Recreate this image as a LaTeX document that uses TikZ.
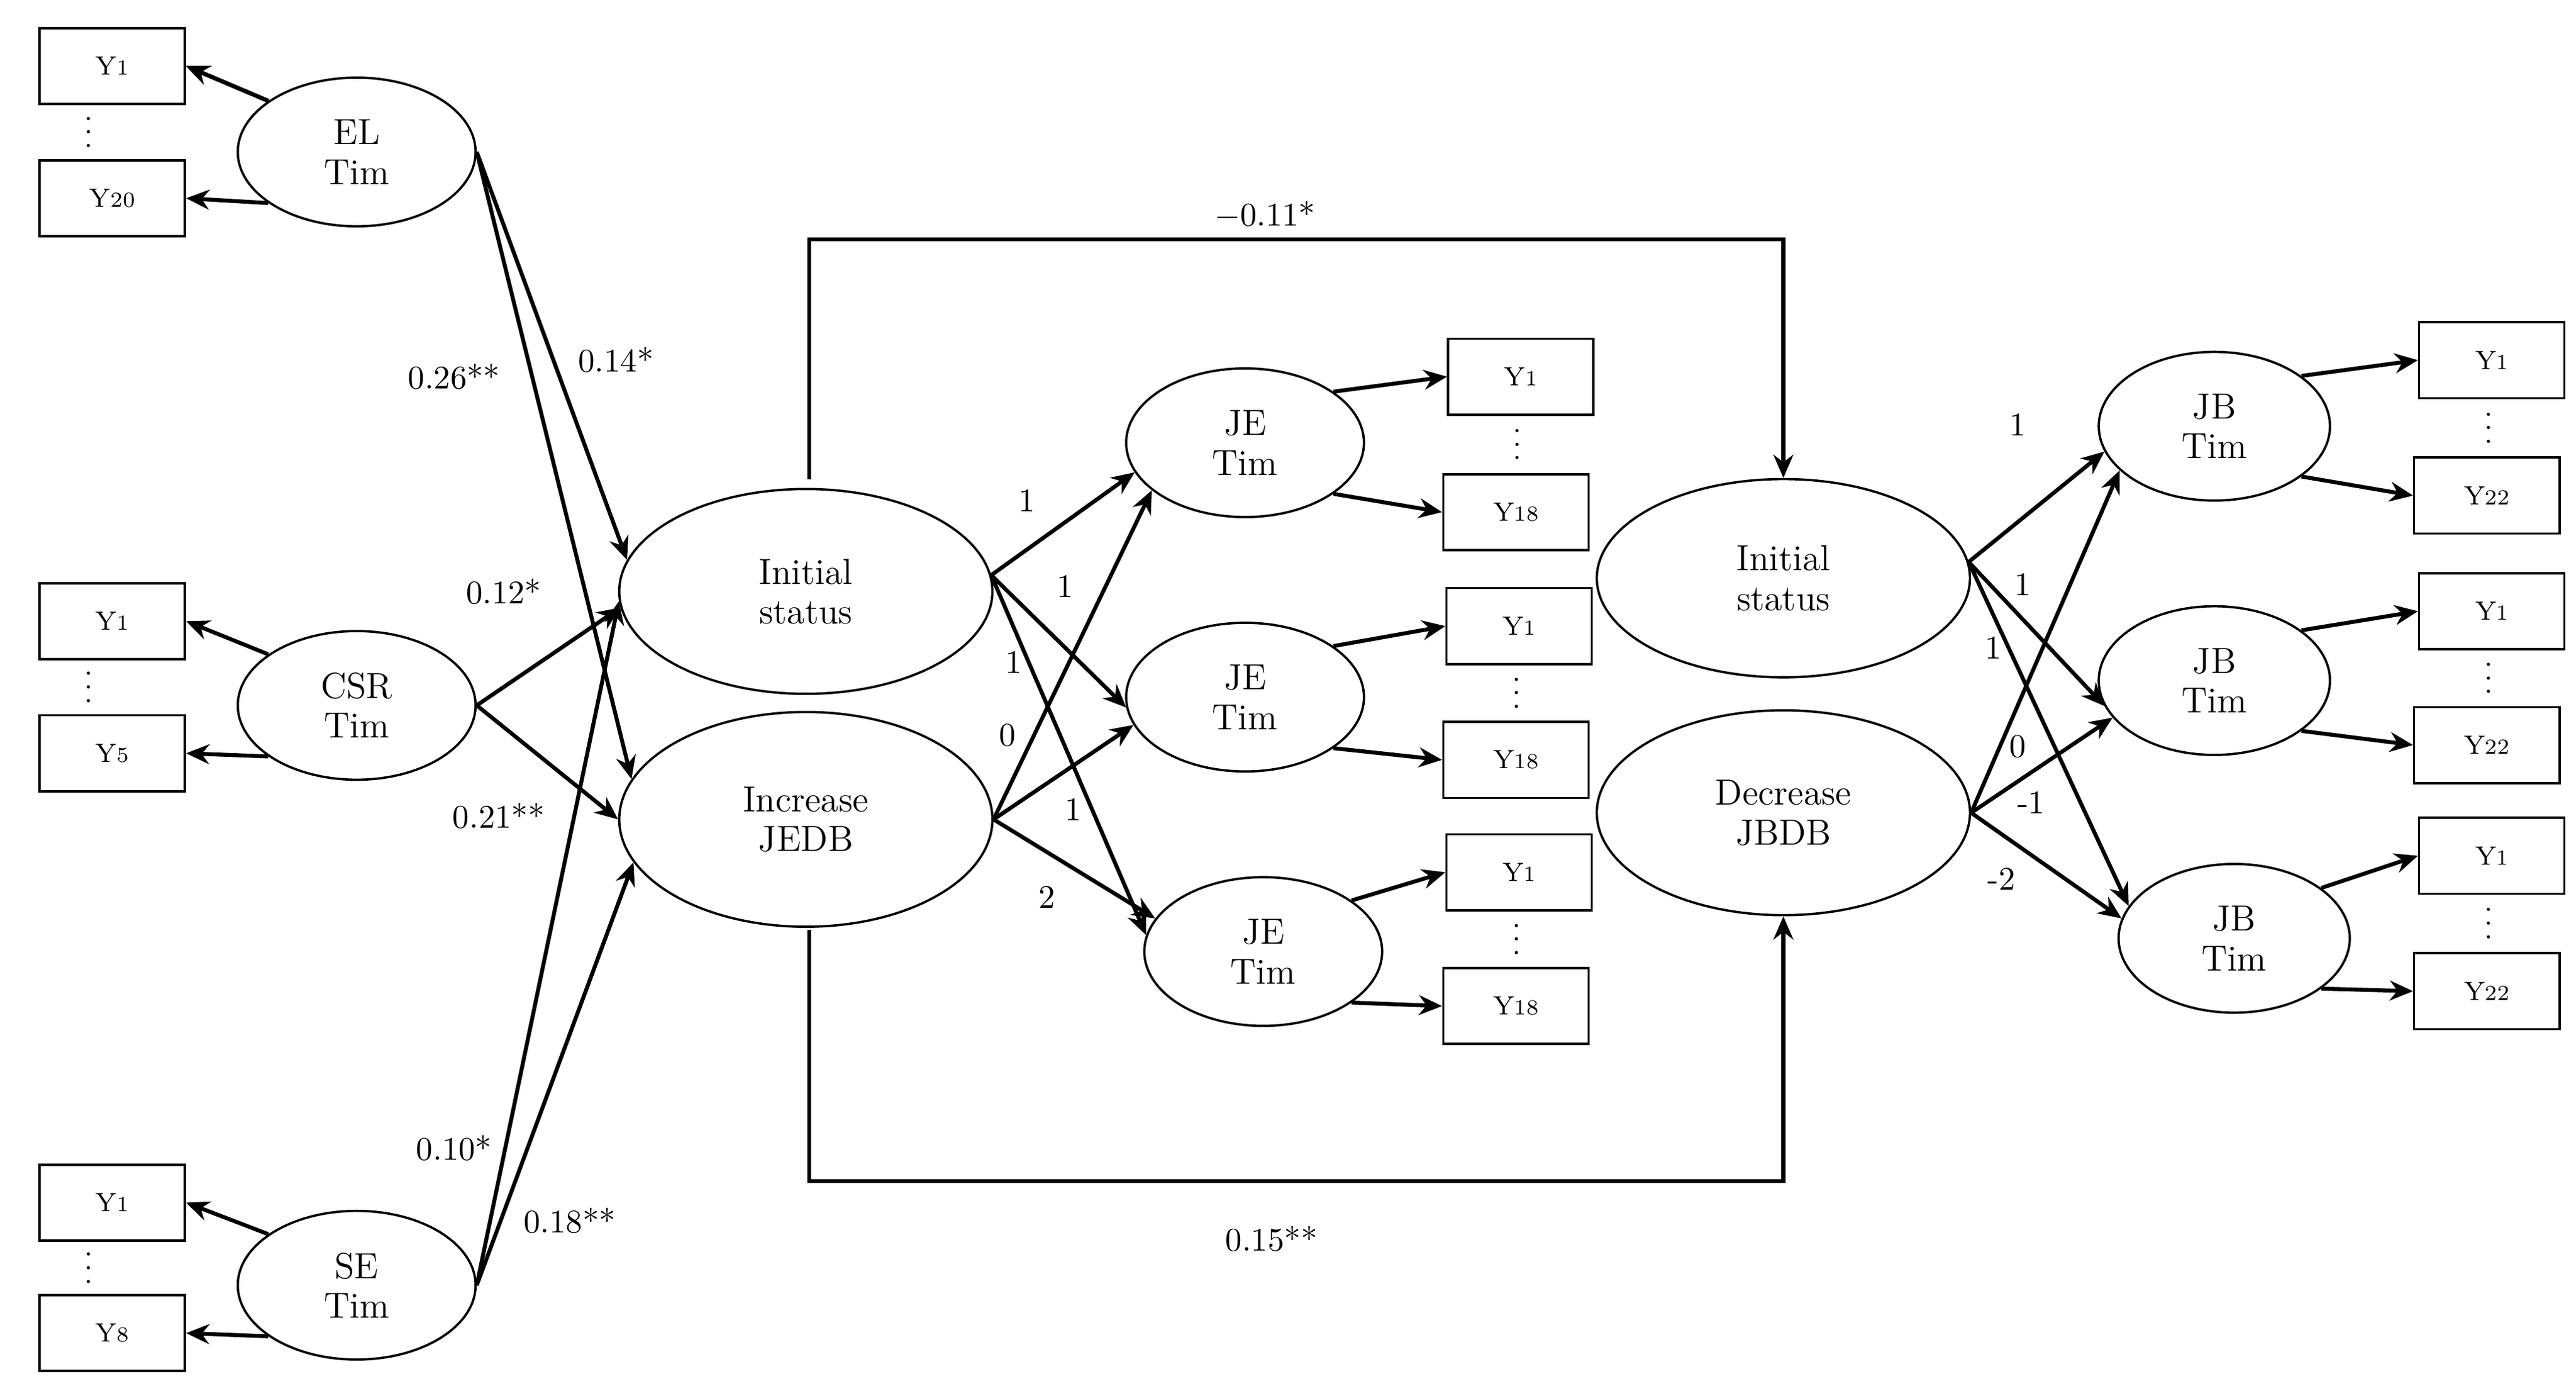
\documentclass[tikz,border=0pt]{standalone}
\usetikzlibrary{arrows.meta,shapes.geometric}
\tikzset{
  lat/.style={draw,ellipse,line width=0.7pt,align=center,font=\fontsize{11}{12}\selectfont,inner sep=0pt},
  obs/.style={draw,rectangle,line width=0.7pt,minimum width=44pt,minimum height=23pt,inner sep=0pt,font=\fontsize{8}{9}\selectfont},
  arr/.style={-{Stealth[length=7pt,width=6pt]},line width=1.2pt},
  lbl/.style={font=\fontsize{10}{11}\selectfont,inner sep=0.75pt}
}
\newcommand{\Yi}[1]{Y{\fontsize{6.5}{7}\selectfont #1}}
\begin{document}
\begin{tikzpicture}[x=0.5pt,y=-0.5pt]
\useasboundingbox (0,0) rectangle (1560,845);

% Exogenous factors
\node[lat,minimum width=72pt,minimum height=45pt] (el) at (216,92) {EL\\Tim};
\node[lat,minimum width=72pt,minimum height=45pt] (csr) at (216,427) {CSR\\Tim};
\node[lat,minimum width=72pt,minimum height=45pt] (se) at (216,778) {SE\\Tim};
\node[obs] (ela) at (68,40) {\Yi{1}};
\node[obs] (elb) at (68,120) {\Yi{20}};
\node[obs] (csra) at (68,376) {\Yi{1}};
\node[obs] (csrb) at (68,456) {\Yi{5}};
\node[obs] (sea) at (68,728) {\Yi{1}};
\node[obs] (seb) at (68,807) {\Yi{8}};
\foreach \a/\b in {ela/elb,csra/csrb,sea/seb}{
  \path (\a.south) -- (\b.north) node[pos=0.5,xshift=-7pt,font=\small,rotate=90]{$\cdots$};
  \draw[arr] (el.150) -- (ela.east);
}
\draw[arr] (el.210) -- (elb.east);
\draw[arr] (csr.150) -- (csra.east);
\draw[arr] (csr.210) -- (csrb.east);
\draw[arr] (se.150) -- (sea.east);
\draw[arr] (se.210) -- (seb.east);

% JE growth factors
\node[lat,minimum width=113pt,minimum height=62pt] (init) at (488,358) {Initial\\status};
\node[lat,minimum width=113pt,minimum height=65pt] (inc) at (488,496) {Increase\\JEDB};
\draw[arr] (el.east) -- (init.170);
\draw[arr] (el.east) -- (inc.167);
\draw[arr] (csr.east) -- (init.185);
\draw[arr] (csr.east) -- (inc.180);
\draw[arr] (se.east) -- (init.183);
\draw[arr] (se.east) -- (inc.194);
\node[lbl] at (275,228) {0.26**};
\node[lbl] at (373,218) {0.14*};
\node[lbl] at (305,358) {0.12*};
\node[lbl] at (302,494) {0.21**};
\node[lbl] at (275,695) {0.10*};
\node[lbl] at (345,739) {0.18**};

% JE indicators
\node[lat,minimum width=72pt,minimum height=45pt] (jea) at (754,268) {JE\\Tim};
\node[lat,minimum width=72pt,minimum height=45pt] (jeb) at (754,422) {JE\\Tim};
\node[lat,minimum width=72pt,minimum height=45pt] (jec) at (765,576) {JE\\Tim};
\draw[arr] (init.5) -- (jea.195);
\draw[arr] (init.5) -- (jeb.185);
\draw[arr] (init.5) -- (jec.172);
\draw[arr] (inc.east) -- (jea.207);
\draw[arr] (inc.east) -- (jeb.194);
\draw[arr] (inc.east) -- (jec.163);
\node[lbl] at (622,303) {1};
\node[lbl] at (645,355) {1};
\node[lbl] at (614,401) {1};
\node[lbl] at (610,445) {0};
\node[lbl] at (650,490) {1};
\node[lbl] at (634,543) {2};
\node[obs] (jeaa) at (921,228) {\Yi{1}};
\node[obs] (jeab) at (918,310) {\Yi{18}};
\node[obs] (jeba) at (920,379) {\Yi{1}};
\node[obs] (jebb) at (918,460) {\Yi{18}};
\node[obs] (jeca) at (920,528) {\Yi{1}};
\node[obs] (jecb) at (918,609) {\Yi{18}};
\foreach \e/\a/\b in {jea/jeaa/jeab,jeb/jeba/jebb,jec/jeca/jecb}{
  \path (\a.south) -- (\b.north) node[pos=0.5,font=\small,rotate=90]{$\cdots$};
  \draw[arr] (\e.30) -- (\a.west);
  \draw[arr] (\e.-30) -- (\b.west);
}

% JB growth factors
\node[lat,minimum width=113pt,minimum height=60pt] (rinit) at (1080,350) {Initial\\status};
\node[lat,minimum width=113pt,minimum height=62pt] (rdec) at (1080,492) {Decrease\\JBDB};
\coordinate (tl) at (490,145);
\coordinate (tr) at (1080,145);
\coordinate (bl) at (490,715);
\coordinate (br) at (1080,715);
\draw[arr] (490,290) -- (tl) -- (tr) -- (rinit.north);
\draw[arr] (490,563) -- (bl) -- (br) -- (rdec.south);
\node[lbl] at (766,130) {$-$0.11*};
\node[lbl] at (770,750) {0.15**};

% JB indicators
\node[lat,minimum width=70pt,minimum height=45pt] (jba) at (1341,258) {JB\\Tim};
\node[lat,minimum width=70pt,minimum height=45pt] (jbb) at (1341,412) {JB\\Tim};
\node[lat,minimum width=70pt,minimum height=45pt] (jbc) at (1353,568) {JB\\Tim};
\draw[arr] (rinit.5) -- (jba.193);
\draw[arr] (rinit.5) -- (jbb.193);
\draw[arr] (rinit.5) -- (jbc.163);
\draw[arr] (rdec.east) -- (jba.205);
\draw[arr] (rdec.east) -- (jbb.200);
\draw[arr] (rdec.east) -- (jbc.170);
\node[lbl] at (1222,257) {1};
\node[lbl] at (1225,354) {1};
\node[lbl] at (1207,392) {1};
\node[lbl] at (1222,452) {0};
\node[lbl] at (1230,486) {-1};
\node[lbl] at (1212,532) {-2};
\node[obs] (jbaa) at (1509,218) {\Yi{1}};
\node[obs] (jbab) at (1506,300) {\Yi{22}};
\node[obs] (jbba) at (1509,370) {\Yi{1}};
\node[obs] (jbbb) at (1506,451) {\Yi{22}};
\node[obs] (jbca) at (1509,518) {\Yi{1}};
\node[obs] (jbcb) at (1506,600) {\Yi{22}};
\foreach \e/\a/\b in {jba/jbaa/jbab,jbb/jbba/jbbb,jbc/jbca/jbcb}{
  \path (\a.south) -- (\b.north) node[pos=0.5,font=\small,rotate=90]{$\cdots$};
  \draw[arr] (\e.30) -- (\a.west);
  \draw[arr] (\e.-30) -- (\b.west);
}
\end{tikzpicture}
\end{document}
